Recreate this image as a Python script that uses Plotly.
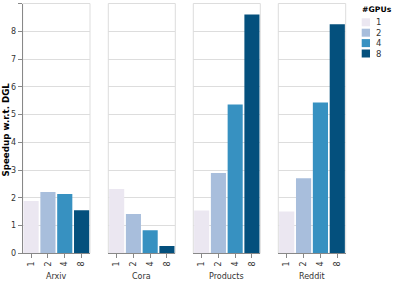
import plotly.graph_objects as go

datasets = ["Arxiv", "Cora", "Products", "Reddit"]
gpus = ["1", "2", "4", "8"]
arxiv = [1.88, 2.21, 2.14, 1.55]
cora = [2.32, 1.42, 0.83, 0.26]
products = [1.54, 2.89, 5.36, 8.6]
reddit = [1.51, 2.70, 5.43, 8.25]
values = [arxiv, cora, products, reddit]
colors = ["#ebe7f1", "#a8bedc", "#3791c1", "#04507d"]

W, H = 395, 281
panels_px = [(22.7, 90.0), (108.3, 175.3), (193.3, 260.3), (278.3, 345.7)]
y_top, y_bot = 3.5, 253.3
ydom = [(H - y_bot) / H, (H - y_top) / H]
font = "DejaVu Sans"
fs = 8

fig = go.Figure()
for i, (name, vals) in enumerate(zip(datasets, values)):
    ax = "" if i == 0 else str(i + 1)
    fig.add_trace(go.Bar(
        x=gpus, y=vals, xaxis="x" + ax, yaxis="y" + ax,
        marker=dict(color=colors, line=dict(width=0)),
        showlegend=False, hoverinfo="x+y",
    ))
    x0, x1 = panels_px[i]
    fig.update_layout(**{
        "xaxis" + ax: dict(
            domain=[x0 / W, x1 / W], anchor="y" + ax, type="category",
            showline=True, linecolor="#888", linewidth=1,
            ticks="outside", ticklen=4, tickcolor="#888", tickangle=-90,
            tickfont=dict(size=fs, color="#333", family=font),
            showgrid=False, zeroline=False, fixedrange=True, automargin=False,
        ),
        "yaxis" + ax: dict(
            domain=ydom, anchor="x" + ax, range=[0, 9], dtick=1,
            showgrid=True, gridcolor="#ddd", gridwidth=1, zeroline=False,
            showline=(i == 0), linecolor="#888",
            ticks="outside" if i == 0 else "", ticklen=4, tickcolor="#888",
            showticklabels=(i == 0),
            tickfont=dict(size=fs, color="#333", family=font),
            fixedrange=True, automargin=False,
        ),
    })
    fig.add_shape(type="rect", xref=f"x{ax} domain", yref=f"y{ax} domain",
                  x0=0, x1=1, y0=0, y1=1, line=dict(color="#ddd", width=1), layer="below")
    fig.add_annotation(x=0.5, y=1 - 276.5 / H, xref=f"x{ax} domain", yref="paper", text=name,
                       showarrow=False, xanchor="center", yanchor="middle",
                       font=dict(size=fs, color="#333", family=font))

fig.add_annotation(x=5.5 / W, y=1 - 130 / H, xref="paper", yref="paper",
                   text="<b>Speedup w.r.t. DGL</b>", textangle=-90,
                   showarrow=False, xanchor="center", yanchor="middle",
                   font=dict(size=8.7, color="#000", family=font))

# legend (manual)
fig.add_annotation(x=361 / W, y=1 - 9.3 / H, xref="paper", yref="paper", text="<b>#GPUs</b>",
                   showarrow=False, xanchor="left", yanchor="middle", xshift=-1,
                   font=dict(size=7.7, color="#000", family=font))
for k, (g, c) in enumerate(zip(gpus, colors)):
    yc = 22.3 + k * 10.4
    fig.add_shape(type="rect", xref="paper", yref="paper",
                  x0=361.7 / W, x1=370 / W, y0=1 - (yc - 4.0) / H, y1=1 - (yc + 4.0) / H,
                  fillcolor=c, line=dict(width=0))
    fig.add_annotation(x=373.5 / W, y=1 - yc / H, xref="paper", yref="paper", text=g,
                       showarrow=False, xanchor="left", yanchor="middle",
                       font=dict(size=8.5, color="#333", family=font))

fig.update_layout(width=W, height=H, margin=dict(l=0, r=0, t=0, b=0, autoexpand=False),
                  plot_bgcolor="white", paper_bgcolor="white", bargap=0.1,
                  font=dict(family=font))
fig.write_html("out.html", config={"displayModeBar": False},
               post_script="document.body.style.margin='0';document.body.style.overflow='hidden';")
